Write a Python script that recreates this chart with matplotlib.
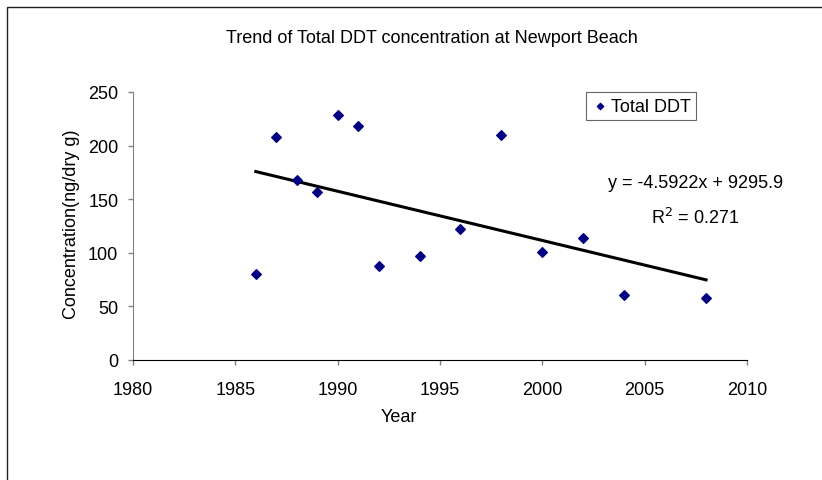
import matplotlib
matplotlib.use("Agg")
import matplotlib.pyplot as plt
from matplotlib.patches import Rectangle

plt.rcParams['font.family'] = ['Liberation Sans', 'DejaVu Sans']

# data
years = [1986, 1987, 1988, 1989, 1990, 1991, 1992, 1994, 1996, 1998, 2000, 2002, 2004, 2008]
total_ddt = [80, 208, 168, 157, 229, 218, 88, 97, 122, 210, 101, 114, 61, 58]

# Excel trendline coefficients shown on the chart
slope = -4.5922
intercept = 9295.9
r_squared = 0.271

x_ticks = [1980, 1985, 1990, 1995, 2000, 2005, 2010]
y_ticks = [0, 50, 100, 150, 200, 250]

FS = 13
W, H = 822, 481
fig = plt.figure(figsize=(W / 100, H / 100), dpi=100)
ax = fig.add_axes([133 / W, 1 - 361 / H, 614 / W, 268 / H])

# outer chart border (left and top visible, rest runs off the image)
fig.patches.append(Rectangle((6.5 / W, -0.1), 1.1, (H - 8) / H + 0.1, transform=fig.transFigure,
                             fill=False, edgecolor='#202020', linewidth=1.0))

ax.scatter(years, total_ddt, marker='D', s=24, color='#000080', zorder=3, label='Total DDT')

line_x = [min(years), max(years)]
line_y = [slope * x + intercept for x in line_x]
ax.plot(line_x, line_y, color='black', linewidth=2.2, zorder=2)

ax.set_xlim(1980, 2010)
ax.set_ylim(0, 250)
ax.set_xticks(x_ticks)
ax.set_yticks(y_ticks)
ax.tick_params(labelsize=FS, direction='out', length=3.6, color='#808080', width=1)
ax.tick_params(axis='x', pad=11.5)
ax.tick_params(axis='y', pad=7)

for side in ['top', 'right']:
    ax.spines[side].set_visible(False)
ax.spines['left'].set_color('#808080')
ax.spines['bottom'].set_color('black')

ax.set_xlabel('Year', fontsize=FS)
ax.xaxis.set_label_coords(0.433, -0.18)
ax.set_ylabel('Concentration(ng/dry g)', fontsize=FS)
ax.yaxis.set_label_coords(-0.086, 0.51)

fig.text(431.5 / W, 1 - 42.7 / H, 'Trend of Total DDT concentration at Newport Beach',
         ha='center', va='baseline', fontsize=FS)

leg = ax.legend(loc='upper left', bbox_to_anchor=((585.7 - 133) / 614, 0.999), fontsize=FS,
                frameon=True, fancybox=False, edgecolor='#404040', handletextpad=0.1,
                borderpad=0.3, borderaxespad=0, handlelength=1.0, markerscale=0.65)
leg.get_frame().set_linewidth(0.8)

fig.text(783 / W, 1 - 188 / H, 'y = -4.5922x + 9295.9', ha='right', va='baseline', fontsize=FS)
fig.text(739 / W, 1 - 223.5 / H, r'R$^{2}$ = %g' % r_squared, ha='right', va='baseline', fontsize=FS)

fig.savefig('out.png', dpi=100)
